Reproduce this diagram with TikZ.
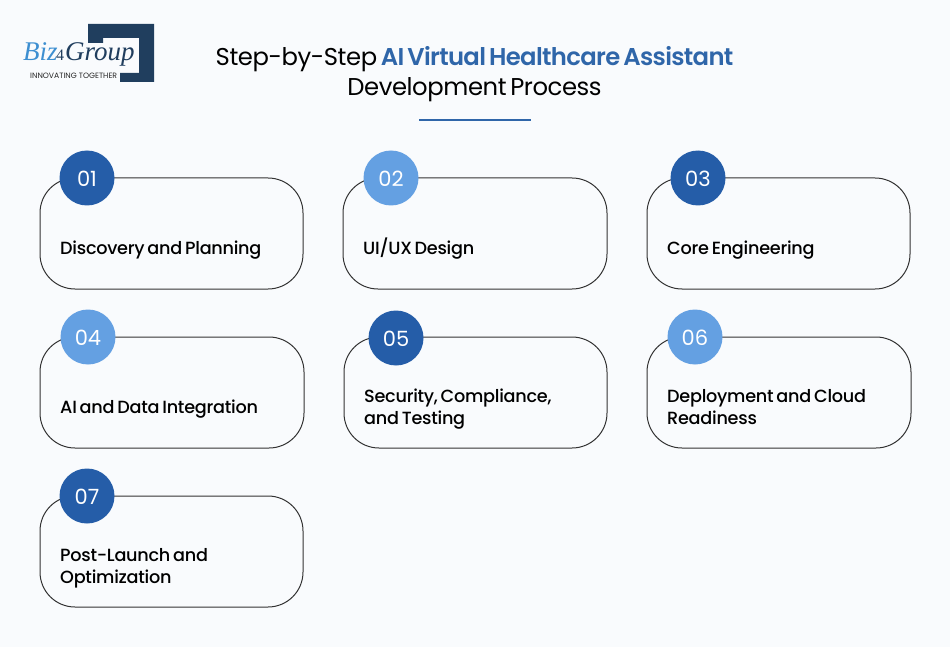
\documentclass[tikz,border=0pt]{standalone}
\usepackage{fontspec}
\setmainfont{Poppins}
\newfontfamily\logoserif{Liberation Serif}
\newfontfamily\cardfont[WordSpace=0.65,LetterSpace=-1.5]{Poppins Medium}
\newfontfamily\titlefont[WordSpace=0.6,LetterSpace=-1.7]{Poppins}
\newfontfamily\titleboldfont[WordSpace=0.6,LetterSpace=-2.7]{Poppins SemiBold}
\definecolor{pagebg}{HTML}{F9FBFD}
\definecolor{deepblue}{HTML}{255DA8}
\definecolor{lightblue}{HTML}{64A0E2}
\definecolor{titleblue}{HTML}{2F66A9}
\definecolor{navy}{HTML}{203E5E}
\definecolor{logoblue}{HTML}{3D8FD1}
\definecolor{cardline}{HTML}{333333}
\tikzset{
  x=1pt,y=-1pt,
  card/.style={draw=cardline,line width=1pt,rounded corners=35pt,minimum width=263pt,minimum height=111pt,anchor=north west,inner sep=0pt,outer sep=0pt},
  badge/.style={circle,minimum size=55pt,inner sep=0pt,outer sep=0pt,text=white,text height=16.7pt,text depth=0pt,font=\fontsize{21}{21}\selectfont},
  darkbadge/.style={badge,fill=deepblue},
  lightbadge/.style={badge,fill=lightblue},
  cardtext/.style={anchor=base west,align=left,inner sep=0pt,text=black,font=\cardfont\fontsize{17.65}{22}\selectfont},
  titletext/.style={anchor=base,inner sep=0pt,align=center,font=\titlefont\fontsize{24.3}{30}\selectfont}
}
\begin{document}
\begin{tikzpicture}
\useasboundingbox (0,0) rectangle (950,647);
\fill[pagebg] (0,0) rectangle (950,647);
% logo
\fill[navy] (88,24) -- (154,24) -- (154,82) -- (120,82) -- (120,73) -- (139,73) -- (139,38) -- (103,38) -- (103,43) -- (88,43) -- cycle;
\node[anchor=base west,inner sep=0pt,text=logoblue,font=\logoserif\itshape\fontsize{27}{27}\selectfont] (logoa) at (23,61) {Biz};
\node[anchor=base west,inner sep=0pt,text=navy,font=\logoserif\fontsize{16}{16}\selectfont] (logob) at (56,61) {4};
\node[anchor=base west,inner sep=0pt,text=navy,font=\logoserif\itshape\fontsize{27}{27}\selectfont] (logoc) at (65,61) {Group};
\node[anchor=base west,inner sep=0pt,text=black!85,font=\fontsize{7.7}{8}\selectfont] (logod) at (30,79) {INNOVATING TOGETHER};
% title
\node[titletext] (t1) at (474.5,66) {Step-by-Step \textcolor{titleblue}{\titleboldfont AI Virtual Healthcare Assistant}};
\node[titletext] (t2) at (474.5,96) {Development Process};
\draw[titleblue,line width=1.4pt] (419,120) -- (531,120);
% cards
\node[card] (c1) at (40,178) {};
\node[card,minimum width=264pt] (c2) at (343,178) {};
\node[card] (c3) at (647,178) {};
\node[card,minimum width=264pt] (c4) at (40,337) {};
\node[card] (c5) at (344,337) {};
\node[card,minimum width=264pt] (c6) at (647,337) {};
\node[card] (c7) at (40,496) {};
% badges
\node[darkbadge] (b1) at (87,178) {01};
\node[lightbadge] (b2) at (391,178) {02};
\node[darkbadge] (b3) at (698,178) {03};
\node[lightbadge] (b4) at (88,337) {04};
\node[darkbadge] (b5) at (396,338) {05};
\node[lightbadge] (b6) at (695,337) {06};
\node[darkbadge] (b7) at (87,496) {07};
% labels
\node[cardtext] (l1) at (60,254) {Discovery and Planning};
\node[cardtext] (l2) at (363,254) {UI/UX Design};
\node[cardtext] (l3) at (667,254) {Core Engineering};
\node[cardtext] (l4) at (60,413) {AI and Data Integration};
\node[cardtext] (l5) at (364,424) {Security, Compliance,\\and Testing};
\node[cardtext] (l6) at (667,424) {Deployment and Cloud\\Readiness};
\node[cardtext] (l7) at (60,583) {Post-Launch and\\Optimization};
\end{tikzpicture}
\end{document}
